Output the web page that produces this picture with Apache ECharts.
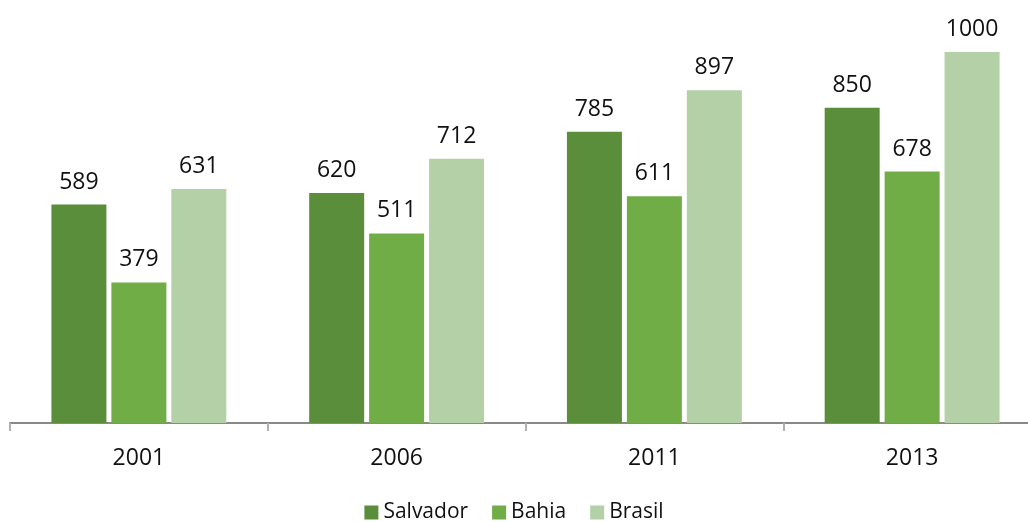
<!DOCTYPE html>
<html>
    <head>
        <meta charset="utf-8" />
        <script src="https://cdn.jsdelivr.net/npm/echarts@6/dist/echarts.min.js"></script>
    </head>
    <body>
        <style>
            html, body, #main {
                width: 1028px;
                height: 522px;
                padding: 0;
                margin: 0;
            }
        </style>
        <div id="main"></div>
        <script>
            var years = ['2001', '2006', '2011', '2013'];
            var salvador = [589, 620, 785, 850];
            var bahia = [379, 511, 611, 678];
            var brasil = [631, 712, 897, 1000];

            var font = '"Open Sans", sans-serif';
            var chart = echarts.init(document.getElementById('main'));

            function bar(name, data, color) {
                return {
                    name: name,
                    type: 'bar',
                    data: data,
                    barWidth: 55,
                    barGap: '9%',
                    itemStyle: { color: color },
                    label: {
                        show: true,
                        position: 'top',
                        distance: 11,
                        color: '#111',
                        fontSize: 23,
                        fontFamily: font
                    }
                };
            }

            chart.setOption({
                animation: false,
                legend: {
                    bottom: -6,
                    left: 'center',
                    itemWidth: 14,
                    itemHeight: 14,
                    itemGap: 24,
                    icon: 'rect',
                    textStyle: { fontSize: 21, color: '#111', fontFamily: font }
                },
                grid: {
                    left: 10,
                    width: 1031,
                    top: 52,
                    bottom: 99,
                    outerBoundsMode: 'none',
                    containLabel: false
                },
                xAxis: {
                    type: 'category',
                    data: years,
                    axisLine: { lineStyle: { color: '#898989', width: 2 } },
                    axisTick: { show: true, length: 8, lineStyle: { color: '#b0b0b0', width: 2 } },
                    axisLabel: { margin: 24, fontSize: 23, color: '#111', fontFamily: font }
                },
                yAxis: {
                    type: 'value',
                    min: 0,
                    max: 1000,
                    show: false,
                    splitLine: { show: false }
                },
                series: [
                    bar('Salvador', salvador, '#5a8e3a'),
                    bar('Bahia', bahia, '#70ad47'),
                    bar('Brasil', brasil, '#b4d0a6')
                ]
            });
        </script>
    </body>
</html>
